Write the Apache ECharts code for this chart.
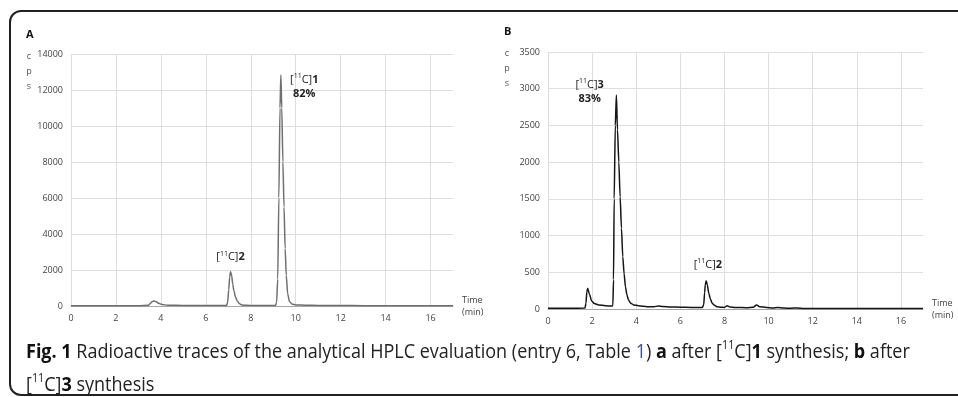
<!DOCTYPE html>
<html>
<head>
<meta charset="utf-8">
<script src="https://cdn.jsdelivr.net/npm/echarts@6/dist/echarts.min.js"></script>
<style>
html,body{margin:0;padding:0;background:#fff;}
#chart{width:958px;height:397px;}
</style>
</head>
<body>
<div id="chart"></div>
<script>
// ---- Data ----
const xTicks = [0, 2, 4, 6, 8, 10, 12, 14, 16];
const yTicksA = [0, 2000, 4000, 6000, 8000, 10000, 12000, 14000];
const yTicksB = [0, 500, 1000, 1500, 2000, 2500, 3000, 3500];

// Panel A: [11C]1 synthesis trace (time in min, counts per second)
const timeA = [0, 1, 2, 3, 3.45, 3.55, 3.62, 3.7, 3.8, 3.9, 4.05, 4.3, 5, 6, 6.92, 6.97, 7.02, 7.06, 7.1, 7.15, 7.2, 7.25, 7.32, 7.4, 7.5, 7.6, 7.8, 8.2, 9.0, 9.1, 9.15, 9.2, 9.25, 9.3, 9.34, 9.38, 9.43, 9.48, 9.53, 9.58, 9.64, 9.72, 9.85, 10.0, 10.5, 11, 12, 13, 14, 15, 16, 17];
const cpsA  = [10, 10, 10, 12, 40, 170, 250, 280, 230, 150, 80, 45, 30, 25, 25, 200, 900, 1600, 1906, 1700, 1200, 850, 500, 280, 120, 60, 35, 28, 25, 30, 200, 1500, 6000, 11000, 12830, 11000, 8000, 5500, 3200, 1700, 700, 250, 100, 60, 40, 30, 25, 20, 15, 12, 10, 10];

// Panel B: [11C]3 synthesis trace
const timeB = [0, 1, 1.68, 1.72, 1.76, 1.8, 1.88, 1.98, 2.1, 2.3, 2.6, 2.9, 2.94, 2.97, 3.0, 3.05, 3.1, 3.15, 3.21, 3.27, 3.33, 3.39, 3.45, 3.51, 3.58, 3.65, 3.75, 3.88, 4.1, 4.5, 4.8, 5.0, 5.2, 5.6, 6.0, 6.5, 7.0, 7.06, 7.1, 7.13, 7.17, 7.22, 7.29, 7.36, 7.44, 7.55, 7.67, 7.85, 8.0, 8.12, 8.25, 8.5, 9.0, 9.3, 9.45, 9.6, 9.9, 10.2, 10.4, 10.7, 11.0, 11.3, 11.6, 12.5, 13.5, 14.5, 15.5, 16.5, 17];
const cpsB  = [10, 10, 12, 80, 230, 282, 200, 110, 75, 55, 45, 40, 45, 400, 1500, 2500, 2915, 2440, 2000, 1530, 1100, 712, 480, 304, 190, 123, 80, 55, 45, 32, 30, 42, 35, 28, 25, 22, 20, 60, 220, 330, 385, 330, 214, 140, 78, 50, 31, 25, 22, 45, 28, 20, 18, 25, 54, 32, 20, 15, 20, 12, 10, 14, 8, 8, 7, 6, 6, 6, 6];

// Peak annotations: [time, cps, label]
const annotA = [
  [10.38, 12200, '{n|[}{s|11}{n|C]}{b|1}\n{b|82%}'],
  [7.1, 2722, '{n|[}{s|11}{n|C]}{b|2}']
];
const annotB = [
  [1.89, 2963, '{n|[}{s|11}{n|C]}{b|3}\n{b|83%}'],
  [7.25, 600, '{n|[}{s|11}{n|C]}{b|2}']
];

const zip = (a, b) => a.slice(0, Math.min(a.length, b.length)).map((v, i) => [v, b[i]]);

const FONT = '"Open Sans", "Liberation Sans", sans-serif';
const CAPFONT = '"Open Sans", "Liberation Sans", sans-serif';

const richAnnot = {
  n: {fontSize: 11, color: '#222', fontFamily: FONT, lineHeight: 14},
  s: {fontSize: 7, color: '#222', fontFamily: FONT, verticalAlign: 'top', lineHeight: 14},
  b: {fontSize: 11, color: '#222', fontFamily: FONT, fontWeight: 'bold', lineHeight: 14}
};

function markPoints(list) {
  return {
    symbol: 'circle', symbolSize: 1,
    itemStyle: {color: 'rgba(0,0,0,0)'},
    silent: true,
    label: {show: true, position: 'inside', rich: richAnnot},
    data: list.map(a => ({coord: [a[0], a[1]], label: {formatter: a[2]}}))
  };
}

function xAxis(gi) {
  return {
    gridIndex: gi, type: 'value', min: 0, max: 17, interval: 2,
    name: 'Time\n(min)', nameLocation: 'end', nameGap: 9,
    nameTextStyle: {fontFamily: FONT, fontSize: 9, color: '#444', align: 'left', verticalAlign: 'middle', lineHeight: 12, padding: [12, 0, 0, 0]},
    axisLine: {show: true, onZero: false, lineStyle: {color: '#a6a6a6', width: 1}},
    axisTick: {show: false},
    axisLabel: {fontFamily: FONT, fontSize: 9, color: '#444', margin: 8, showMaxLabel: false,
      formatter: v => xTicks.indexOf(v) >= 0 ? String(v) : ''},
    splitLine: {show: true, showMaxLine: false, lineStyle: {color: '#dedede', width: 1}}
  };
}
function yAxis(gi, ticks) {
  return {
    gridIndex: gi, type: 'value', min: ticks[0], max: ticks[ticks.length - 1], interval: ticks[1] - ticks[0],
    axisLine: {show: false}, axisTick: {show: false},
    axisLabel: {fontFamily: FONT, fontSize: 9, color: '#444', margin: 8, formatter: v => String(v)},
    splitLine: {show: true, lineStyle: {color: '#dedede', width: 1}}
  };
}

const capRich = {
  fb: {fontFamily: CAPFONT, fontSize: 20, fontWeight: 'bold', fill: '#111', lineHeight: 24},
  b: {fontFamily: CAPFONT, fontSize: 20, fontWeight: 'bold', fill: '#111', lineHeight: 24},
  bl: {fontFamily: CAPFONT, fontSize: 20, fill: '#2a52c9', lineHeight: 24},
  sup: {fontFamily: CAPFONT, fontSize: 12, fill: '#222', verticalAlign: 'top', lineHeight: 24}
};

const chart = echarts.init(document.getElementById('chart'), null, {renderer: 'canvas'});
chart.setOption({
  animation: false,
  backgroundColor: '#fff',
  grid: [
    {left: 71, top: 54, width: 382, height: 252},
    {left: 548, top: 52, width: 375, height: 257}
  ],
  xAxis: [xAxis(0), xAxis(1)],
  yAxis: [yAxis(0, yTicksA), yAxis(1, yTicksB)],
  series: [
    {
      type: 'line', xAxisIndex: 0, yAxisIndex: 0, data: zip(timeA, cpsA),
      showSymbol: false, symbol: 'none', smooth: 0.25, smoothMonotone: 'x',
      lineStyle: {color: '#6f6f6f', width: 1.5},
      markPoint: markPoints(annotA)
    },
    {
      type: 'line', xAxisIndex: 1, yAxisIndex: 1, data: zip(timeB, cpsB),
      showSymbol: false, symbol: 'none', smooth: 0.25, smoothMonotone: 'x',
      lineStyle: {color: '#151515', width: 1.5},
      markPoint: markPoints(annotB)
    }
  ],
  graphic: [
    {type: 'rect', shape: {x: 10, y: 11, width: 980, height: 384, r: 11}, style: {fill: 'none', stroke: '#222', lineWidth: 2}, silent: true},
    {type: 'text', x: 26, y: 35, style: {text: 'A', font: 'bold 11px ' + FONT, fill: '#111', verticalAlign: 'middle'}},
    {type: 'text', x: 504, y: 32, style: {text: 'B', font: 'bold 11px ' + FONT, fill: '#111', verticalAlign: 'middle'}},
    {type: 'text', x: 29, y: 71.5, style: {text: 'c\np\ns', font: '9px ' + FONT, fill: '#555', align: 'center', verticalAlign: 'middle', lineHeight: 14.7}},
    {type: 'text', x: 507, y: 68, style: {text: 'c\np\ns', font: '9px ' + FONT, fill: '#555', align: 'center', verticalAlign: 'middle', lineHeight: 15}},
    {
      type: 'text', x: 26, y: 352, scaleX: 0.9,
      style: {
        text: '{fb|Fig. 1} Radioactive traces of the analytical HPLC evaluation (entry 6, Table {bl|1}) {b|a} after [{sup|11}C]{b|1} synthesis; {b|b} after',
        verticalAlign: 'middle', rich: capRich,
        font: '20px ' + CAPFONT, fill: '#222'
      }
    },
    {
      type: 'text', x: 26, y: 385, scaleX: 0.9,
      style: {
        text: '[{sup|11}C]{b|3} synthesis',
        verticalAlign: 'middle', rich: capRich,
        font: '20px ' + CAPFONT, fill: '#222'
      }
    }
  ]
});
</script>
</body>
</html>
